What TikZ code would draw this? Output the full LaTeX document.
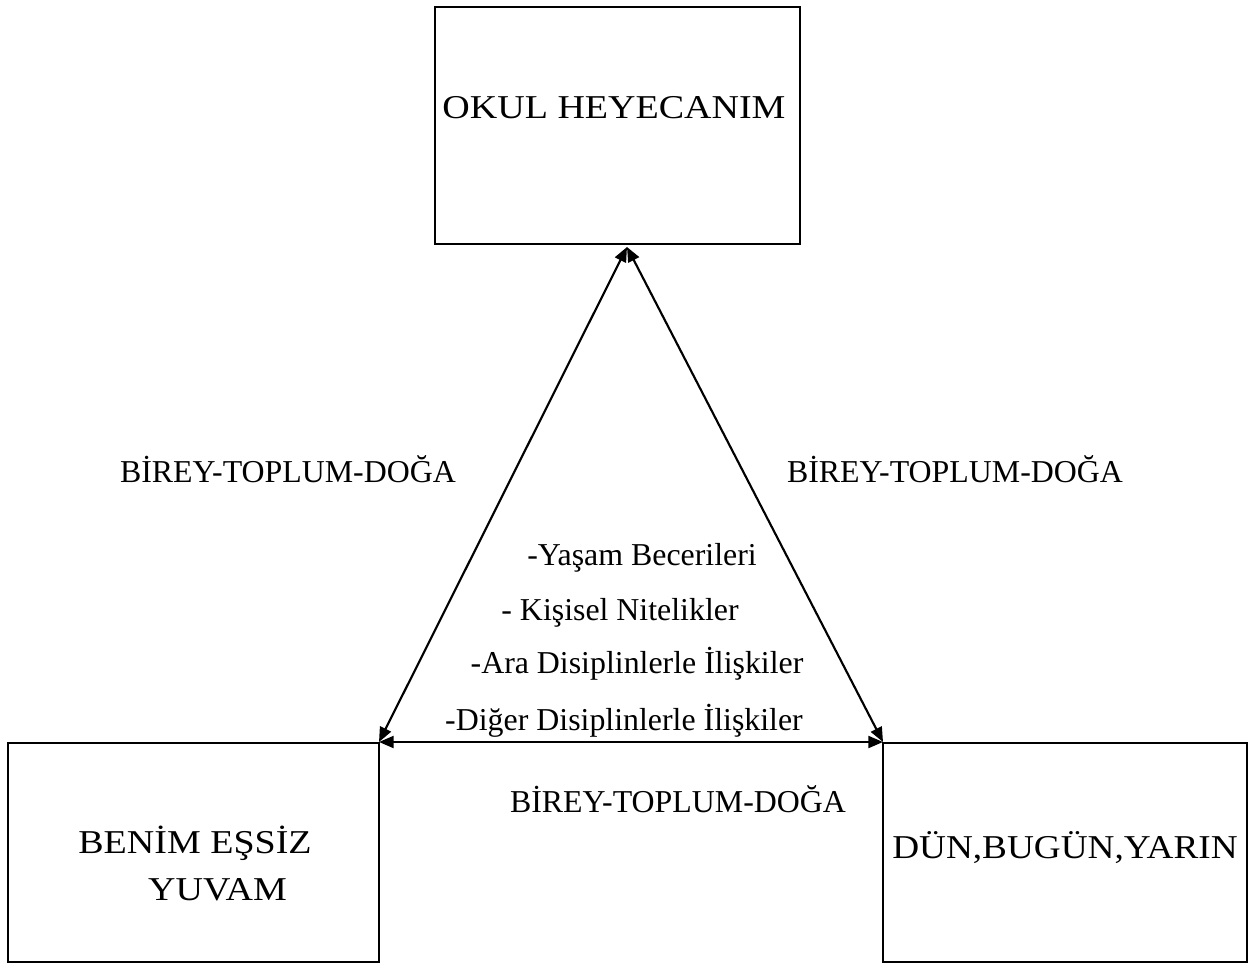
\documentclass[tikz,border=0pt]{standalone}
\usepackage{fontspec}
\setmainfont{Liberation Serif}
\usetikzlibrary{arrows.meta}
\begin{document}
\begin{tikzpicture}[x=0.75pt,y=-0.75pt,
  box/.style={draw,line width=1.3pt,inner sep=0pt},
  lbl/.style={anchor=base,inner sep=0pt,font=\fontsize{23.9}{28}\selectfont},
  boxlbl/.style={anchor=base,inner sep=0pt,xscale=1.14,font=\fontsize{25}{30}\selectfont},
  link/.style={line width=1.6pt,{Triangle[length=11pt,width=9pt]}-{Triangle[length=11pt,width=9pt]}}]
\useasboundingbox (0,0) rectangle (1253,967);
\node[box,minimum width=273.75pt,minimum height=177.75pt] (top) at (617.5,125.5) {};
\node[box,minimum width=278.25pt,minimum height=164.25pt] (left) at (193.5,852.5) {};
\node[box,minimum width=273pt,minimum height=164.25pt] (right) at (1065,852.5) {};
\coordinate (apex) at (627,247);
\coordinate (bl) at (379,742);
\coordinate (br) at (883,742);
\draw[link] (apex) -- (bl);
\draw[link] (apex) -- (br);
\draw[link] (bl) -- (br);
\node[boxlbl] (t1) at (614,118) {OKUL HEYECANIM};
\node[lbl] (b1) at (288,482) {BİREY-TOPLUM-DOĞA};
\node[lbl] (b2) at (955,482) {BİREY-TOPLUM-DOĞA};
\node[lbl] (b3) at (678,812) {BİREY-TOPLUM-DOĞA};
\node[lbl] (l1) at (642,565) {-Yaşam Becerileri};
\node[lbl] (l2) at (620,620) {- Kişisel Nitelikler};
\node[lbl] (l3) at (637,673) {-Ara Disiplinlerle İlişkiler};
\node[lbl] (l4) at (624,730) {-Diğer Disiplinlerle İlişkiler};
\node[boxlbl] (n1) at (195,853) {BENİM EŞSİZ};
\node[boxlbl] (n2) at (217.5,900) {YUVAM};
\node[boxlbl,xscale=0.98] (n3) at (1065,858) {DÜN,BUGÜN,YARIN};
\end{tikzpicture}
\end{document}
